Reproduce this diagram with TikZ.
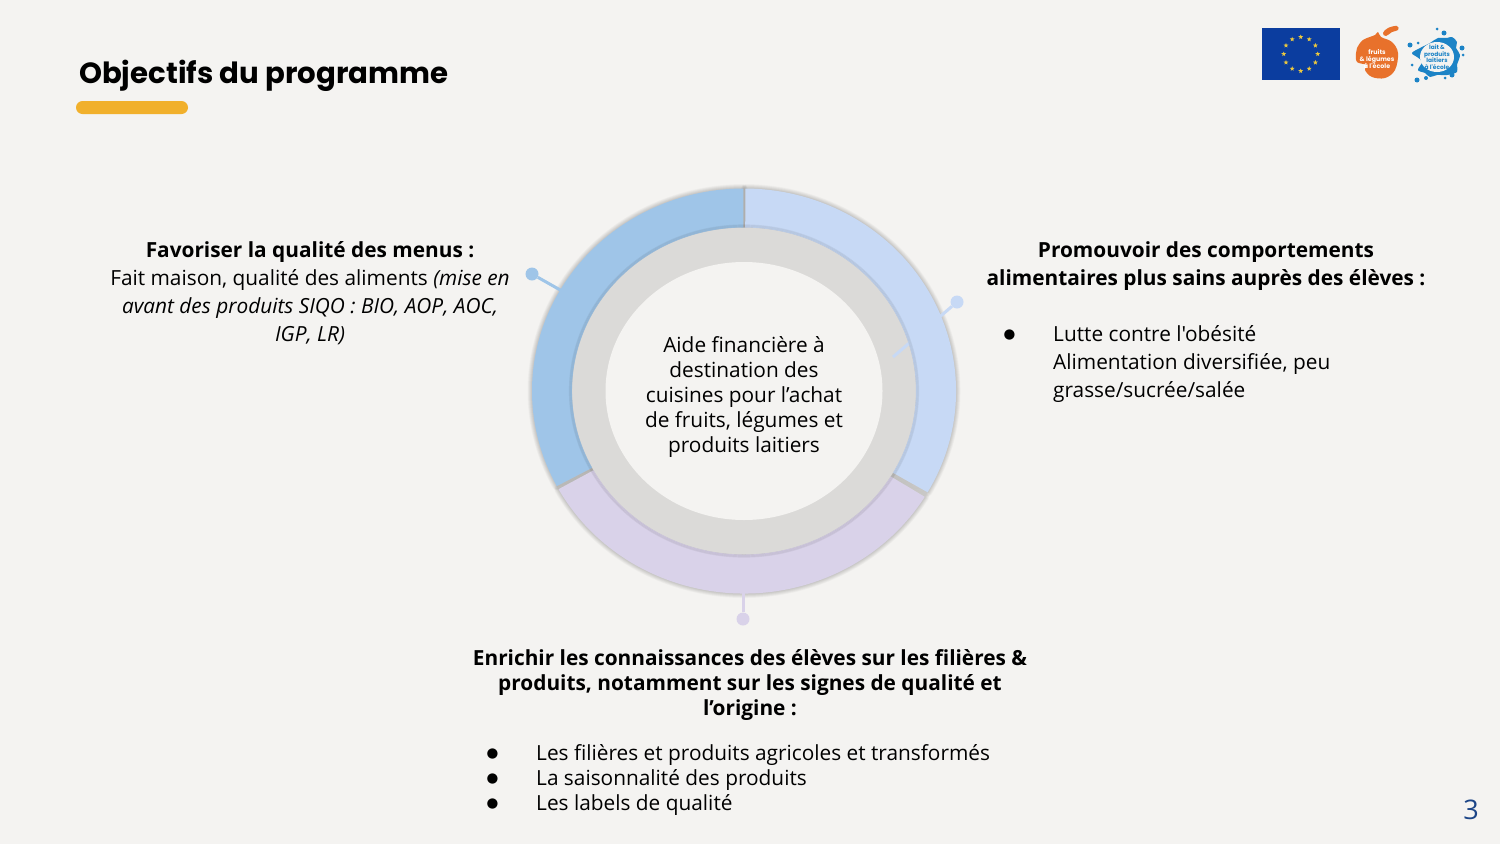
\documentclass[tikz,border=0pt]{standalone}
\usepackage{fontspec}
\setmainfont{Open Sans}
\newfontfamily\bodyfont{Open Sans}
\newfontfamily\titlefont{Poppins}
\newfontfamily\symfont{DejaVu Sans}
\usetikzlibrary{calc,
				shapes.geometric}

\definecolor{pagebg}{HTML}{F4F3F1}
\definecolor{ringgrey}{HTML}{DBDAD8}
\definecolor{menublue}{HTML}{9FC5E8}
\definecolor{elevesblue}{HTML}{C7D9F5}
\definecolor{savoirviolet}{HTML}{D9D2E9}
\definecolor{barorange}{HTML}{F1B02C}
\definecolor{flagblue}{HTML}{0B3D9F}
\definecolor{staryellow}{HTML}{EBC83F}
\definecolor{fruitorange}{HTML}{E8712B}
\definecolor{laitblue}{HTML}{1C83C6}
\definecolor{pagenum}{HTML}{1C4587}

\tikzset{
	body/.style={font=\bodyfont\fontsize{20.83}{28}\selectfont, text=black, inner sep=0pt},
	tight/.style={font=\bodyfont\fontsize{20.83}{25}\selectfont, text=black, inner sep=0pt},
	pin/.style={circle, inner sep=0pt, minimum size=13pt},
	logotext/.style={font=\titlefont\bfseries\fontsize{6.3}{7}\selectfont, inner sep=0pt, align=center}
}

\newcommand{\bul}{\makebox[44pt][l]{\hspace*{0.5pt}\raisebox{2.5pt}{\symfont\fontsize{13.5}{13.5}\selectfont ●}}}

\newcommand{\ringpath}[2]{
	($(ringc)+(#1:212pt and 202.5pt)$) arc[start angle=#1, end angle=#2, x radius=212pt, y radius=202.5pt]
	-- ($(ringc)+(#2:172pt and 163.5pt)$) arc[start angle=#2, end angle=#1, x radius=172pt, y radius=163.5pt] -- cycle
}
\newcommand{\ringshadow}[2]{
	\foreach \w in {1,2,...,9} {
		\draw[black, opacity=0.02, line width=\w pt, yshift=-3pt, line join=round] \ringpath{#1}{#2};
	}
}

\begin{document}
\begin{tikzpicture}[x=1pt, y=-1pt]

\useasboundingbox (0,0) rectangle (1500,844);
\fill[pagebg] (0,0) rectangle (1500,844);

\node[anchor=base west, inner sep=0pt, font=\titlefont\bfseries\fontsize{29.2}{32}\selectfont] (title) at (79,83) {Objectifs du programme};
\fill[barorange, rounded corners=6.5pt] (76,101) rectangle (188,114);

% logos
\fill[flagblue] (1262,28) rectangle (1340,80);
\foreach \a in {0,30,...,330} {
	\node[star, star points=5, star point ratio=2.3, fill=staryellow, inner sep=0pt, minimum size=5pt] (star\a) at ($(1300.7,54)+(\a:17pt)$) {};
}

\fill[fruitorange] plot[smooth cycle, tension=0.6] coordinates {(1357,48) (1363,40) (1375,35) (1378,32) (1381,37) (1392,42) (1398,53) (1395,70) (1385,78) (1372,77) (1365,70) (1367,65) (1357,62) (1356,53)};
\fill[fruitorange] plot[smooth cycle, tension=0.7] coordinates {(1383,33) (1388,28) (1397,26) (1398,30) (1392,32) (1386,36)};
\node[logotext, text=white] (fruitlabel) at (1377,59) {fruits\\\& légumes\\à l'école};

\fill[laitblue] plot[smooth cycle, tension=0.6] coordinates {(1412,53) (1420,48) (1430,43) (1438,38) (1447,38) (1452,37) (1457,42) (1456,48) (1460,55) (1457,65) (1457,72) (1447,75) (1437,75) (1430,77) (1425,73) (1418,70) (1422,62) (1417,57)};
\fill[pagebg] (1437,57) ellipse (17pt and 15pt);
\foreach \x/\y/\r in {1437/29/1.5, 1444/33/2.5, 1410/45/2.5, 1418/43/1.5, 1462/48/2.5, 1463/55/1.5, 1412/65/1.5, 1417/80/2.5, 1426/78/2, 1445/78/1.5, 1452/75/2.5} {
	\fill[laitblue] (\x,\y) circle (\r pt);
}
\node[logotext, text=laitblue, font=\titlefont\bfseries\fontsize{5.9}{6.6}\selectfont] (laitlabel) at (1437,57) {lait \&\\produits\\laitiers\\à l'école};

% ring
\coordinate (ringc) at (744,391);
\ringshadow{-30}{89.6}
\ringshadow{90.2}{208}
\ringshadow{209}{328.5}

\fill[ringgrey] (ringc) ellipse (172pt and 163.5pt);

\node[pin, fill=menublue] (pinmenus) at (532,274) {};
\node[pin, fill=elevesblue] (pineleves) at (957,302) {};
\node[pin, fill=savoirviolet] (pinsavoirs) at (743,619) {};
\coordinate (endmenus) at (562,291);
\coordinate (endeleves) at (893,357);
\coordinate (endsavoirs) at (743,590);
\draw[menublue, line width=3pt] (pinmenus) -- (endmenus);
\draw[elevesblue, line width=3pt] (pineleves) -- (endeleves);
\draw[savoirviolet, line width=3pt] (pinsavoirs) -- (endsavoirs);

\fill[elevesblue] \ringpath{-30}{89.6};
\fill[menublue] \ringpath{90.2}{208};
\fill[savoirviolet] \ringpath{209}{328.5};

\foreach \rx/\ry in {172.5/164, 173.5/165, 174.5/166} {
	\draw[black, opacity=0.06, line width=1.2pt] (ringc) ellipse (\rx pt and \ry pt);
}
\fill[pagebg] (ringc) ellipse (138.5pt and 129pt);

\node[tight, align=center] (aide) at (744,397) {Aide financière à\\destination des\\cuisines pour l’achat\\de fruits, légumes et\\produits laitiers};

% texts
\node[body, align=center] (menus) at (310,293) {\textbf{Favoriser la qualité des menus :}\\Fait maison, qualité des aliments \textit{(mise en}\\\textit{avant des produits SIQO : BIO, AOP, AOC,}\\\textit{IGP, LR)}};

\node[body, align=center] (eleves) at (1206,266) {\textbf{Promouvoir des comportements}\\\textbf{alimentaires plus sains auprès des élèves :}};
\node[body, align=left, anchor=west] (elevesliste) at (1003,364) {\bul\hspace*{6pt}Lutte contre l'obésité\\\hspace*{50pt}Alimentation diversifiée, peu\\\hspace*{50pt}grasse/sucrée/salée};

\node[tight, align=center] (savoirs) at (750,685) {\textbf{Enrichir les connaissances des élèves sur les filières \&}\\\textbf{produits, notamment sur les signes de qualité et}\\\textbf{l’origine :}};
\node[tight, align=left, anchor=west] (savoirsliste) at (486,780) {\bul\hspace*{6pt}Les filières et produits agricoles et transformés\\\bul\hspace*{6pt}La saisonnalité des produits\\\bul\hspace*{6pt}Les labels de qualité};

\node[inner sep=0pt, text=pagenum, font=\bodyfont\fontsize{27}{30}\selectfont] (numero) at (1471,810) {3};

\end{tikzpicture}
\end{document}
